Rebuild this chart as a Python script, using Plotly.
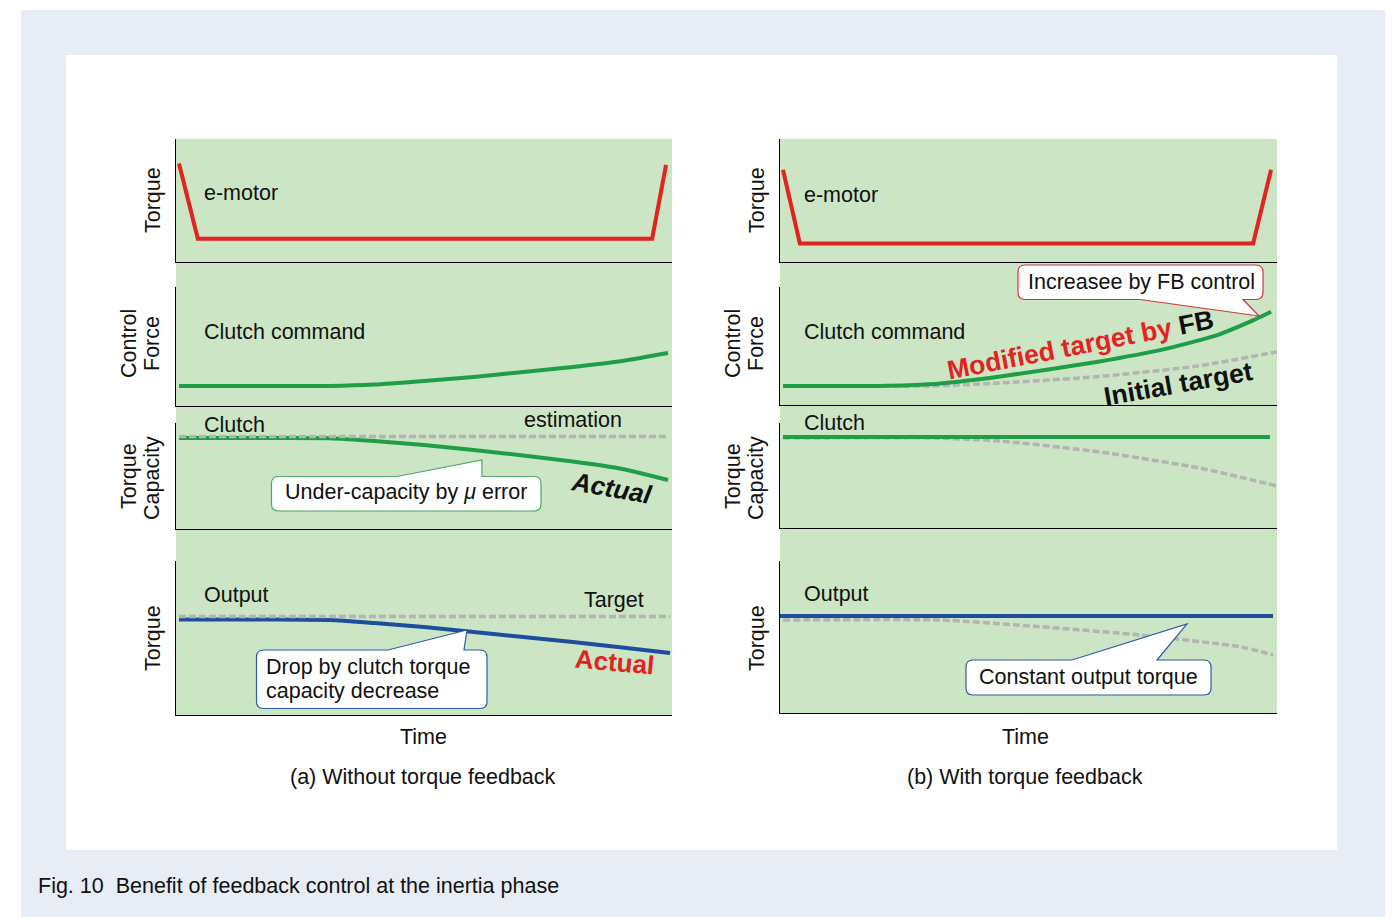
import plotly.graph_objects as go

# ---------------- data (time in % of inertia phase, value normalised 0..1) ----------------
# (a) Without torque feedback
emotor_a_t = [0.6, 4.4, 96.0, 98.8]
emotor_a_v = [0.80, 0.19, 0.19, 0.79]

cmd_a_t = [0.6, 10, 20, 31, 40, 50, 60, 70, 80, 90, 99.2]
cmd_a_v = [0.168, 0.168, 0.168, 0.168, 0.18, 0.21, 0.244, 0.286, 0.328, 0.378, 0.445]

cap_est_a_t = [0.6, 99.2]
cap_est_a_v = [0.873, 0.873]
cap_act_a_t = [0.6, 20, 31, 40, 50, 60, 70, 80, 90, 99.2]
cap_act_a_v = [0.858, 0.858, 0.856, 0.830, 0.792, 0.745, 0.693, 0.637, 0.566, 0.462]

out_tgt_a_t = [0.6, 99.6]
out_tgt_a_v = [0.64, 0.64]
out_act_a_t = [0.6, 20, 31, 40, 50, 60, 70, 80, 90, 99.6]
out_act_a_v = [0.62, 0.62, 0.617, 0.597, 0.571, 0.539, 0.506, 0.474, 0.438, 0.403]

# (b) With torque feedback
emotor_b_t = [0.6, 4.0, 95.2, 98.8]
emotor_b_v = [0.75, 0.15, 0.15, 0.75]

cmd_mod_b_t = [0.6, 20, 30, 44, 64, 78, 88, 94.6, 98.8]
cmd_mod_b_v = [0.161, 0.161, 0.175, 0.24, 0.367, 0.48, 0.593, 0.706, 0.79]
cmd_init_b_t = [0.6, 30, 44, 64, 84, 100]
cmd_init_b_v = [0.161, 0.161, 0.186, 0.24, 0.33, 0.45]

cap_b_t = [0.6, 98.6]
cap_b_v = [0.867, 0.867]
cap_init_b_t = [0.6, 31, 44.3, 64.4, 84.5, 100]
cap_init_b_v = [0.857, 0.857, 0.829, 0.724, 0.571, 0.40]

out_b_t = [0.0, 99.2]
out_b_v = [0.638, 0.638]
out_init_b_t = [0.6, 32.2, 52.3, 72.4, 92.6, 99.2]
out_init_b_v = [0.612, 0.612, 0.568, 0.513, 0.436, 0.382]

# ---------------- layout helpers ----------------
W, H = 1397, 917
FONT = "Liberation Sans, Arial, Helvetica, sans-serif"
GREEN_BG = "#cce5c4"
OUTER_BG = "#e8ecf5"
RED = "#e3231f"
GREEN = "#1f9e48"
BLUE = "#1d4d9c"
GRAY = "#b4b4b4"
FS = 21.5


def X(p):
    return p / W


def Y(p):
    return 1 - p / H


# subplot rectangles in pixels: (x0, x1, ytop, ybottom)
LEFT = (176, 672)
RIGHT = (780, 1277)
panels = [
    (LEFT, 139, 262), (LEFT, 287, 406), (LEFT, 423, 529), (LEFT, 561, 715),
    (RIGHT, 139, 262), (RIGHT, 287, 405), (RIGHT, 423, 528), (RIGHT, 561, 713),
]

fig = go.Figure()
layout = dict(
    width=W, height=H, margin=dict(l=0, r=0, t=0, b=0),
    paper_bgcolor="white", plot_bgcolor="rgba(0,0,0,0)",
    showlegend=False, font=dict(family=FONT, size=FS, color="#111111"),
)
for i, ((x0, x1), yt, yb) in enumerate(panels, start=1):
    sfx = "" if i == 1 else str(i)
    layout["xaxis" + sfx] = dict(
        domain=[X(x0), X(x1)], range=[0, 100], anchor="y" + sfx,
        showline=True, linecolor="black", linewidth=1.2, mirror=False,
        showticklabels=False, ticks="", showgrid=False, zeroline=False, fixedrange=True,
    )
    layout["yaxis" + sfx] = dict(
        domain=[Y(yb), Y(yt)], range=[0, 1], anchor="x" + sfx,
        showline=True, linecolor="black", linewidth=1.2,
        showticklabels=False, ticks="", showgrid=False, zeroline=False, fixedrange=True,
    )
fig.update_layout(**layout)


def line(t, v, n, color, width=4, dash=None):
    sfx = "" if n == 1 else str(n)
    fig.add_trace(go.Scatter(
        x=t, y=v, mode="lines", xaxis="x" + sfx, yaxis="y" + sfx,
        line=dict(color=color, width=width, dash=dash, shape="spline", smoothing=0.5),
        hoverinfo="skip",
    ))


DASH = "7px,3px"
# (a)
fig.add_trace(go.Scatter(x=emotor_a_t, y=emotor_a_v, mode="lines", xaxis="x", yaxis="y",
                         line=dict(color=RED, width=4), hoverinfo="skip"))
line(cmd_a_t, cmd_a_v, 2, GREEN)
line(cap_act_a_t, cap_act_a_v, 3, GREEN)
line(cap_est_a_t, cap_est_a_v, 3, GRAY, 3.5, DASH)
line(out_act_a_t, out_act_a_v, 4, BLUE)
line(out_tgt_a_t, out_tgt_a_v, 4, GRAY, 3.5, DASH)
# (b)
fig.add_trace(go.Scatter(x=emotor_b_t, y=emotor_b_v, mode="lines", xaxis="x5", yaxis="y5",
                         line=dict(color=RED, width=4), hoverinfo="skip"))
line(cmd_init_b_t, cmd_init_b_v, 6, GRAY, 3.5, DASH)
line(cmd_mod_b_t, cmd_mod_b_v, 6, GREEN)
line(cap_init_b_t, cap_init_b_v, 7, GRAY, 3.5, DASH)
line(cap_b_t, cap_b_v, 7, GREEN)
line(out_init_b_t, out_init_b_v, 8, GRAY, 3.5, DASH)
line(out_b_t, out_b_v, 8, BLUE)

# ---------------- background shapes ----------------
shapes = [
    dict(type="rect", xref="paper", yref="paper", x0=X(21), x1=X(1385), y0=Y(917), y1=Y(10),
         fillcolor=OUTER_BG, line=dict(width=0), layer="below"),
    dict(type="rect", xref="paper", yref="paper", x0=X(66), x1=X(1337), y0=Y(850), y1=Y(55),
         fillcolor="white", line=dict(width=0), layer="below"),
    dict(type="rect", xref="paper", yref="paper", x0=X(176), x1=X(672), y0=Y(715), y1=Y(139),
         fillcolor=GREEN_BG, line=dict(width=0), layer="below"),
    dict(type="rect", xref="paper", yref="paper", x0=X(780), x1=X(1277), y0=Y(713), y1=Y(139),
         fillcolor=GREEN_BG, line=dict(width=0), layer="below"),
]


def callout(x0, y0, x1, y1, side, a, b, tip, border, r=7):
    tx, ty = tip
    P = lambda x, y: f"{X(x):.6f},{Y(y):.6f}"
    d = f"M {P(x0 + r, y0)} "
    if side == "top":
        d += f"L {P(a, y0)} L {P(tx, ty)} L {P(b, y0)} "
    d += f"L {P(x1 - r, y0)} Q {P(x1, y0)} {P(x1, y0 + r)} "
    d += f"L {P(x1, y1 - r)} Q {P(x1, y1)} {P(x1 - r, y1)} "
    if side == "bottom":
        d += f"L {P(b, y1)} L {P(tx, ty)} L {P(a, y1)} "
    d += f"L {P(x0 + r, y1)} Q {P(x0, y1)} {P(x0, y1 - r)} "
    d += f"L {P(x0, y0 + r)} Q {P(x0, y0)} {P(x0 + r, y0)} Z"
    return dict(type="path", xref="paper", yref="paper", path=d, fillcolor="white",
                line=dict(color=border, width=1.2), layer="above")


shapes += [
    callout(271.5, 476.5, 541, 511, "top", 397, 482, (482, 460), "#4aa865"),
    callout(256.5, 650, 487, 708.5, "top", 388, 464, (467, 630), "#2e5da6"),
    callout(1018, 265, 1263, 299.5, "bottom", 1140, 1243, (1259, 316), "#d2393a"),
    callout(966, 660, 1211, 695, "top", 1072, 1157, (1187, 624), "#2e5da6"),
]
fig.update_layout(shapes=shapes)

# ---------------- text ----------------
anns = []


def T(text, x, y, size=FS, xa="left", ya="middle", color="#111111", angle=0):
    anns.append(dict(text=text, x=X(x), y=Y(y), xref="paper", yref="paper",
                     xanchor=xa, yanchor=ya, showarrow=False, textangle=angle,
                     font=dict(family=FONT, size=size, color=color)))


# side axis labels
for cx in (0, 604):
    T("Torque", 153 + cx, 200, xa="center", angle=-90)
    T("Control", 129 + cx, 344, xa="center", angle=-90)
    T("Force", 152 + cx, 344, xa="center", angle=-90)
    T("Torque", 129 + cx, 476, xa="center", angle=-90)
    T("Capacity", 152 + cx, 478, xa="center", angle=-90)
    T("Torque", 153 + cx, 638, xa="center", angle=-90)

# (a) labels
T("e-motor", 202, 193)
T("Clutch command", 202, 332)
T("Clutch", 202, 425)
T("estimation", 522, 420)
T("Output", 202, 595)
T("Target", 582, 600)
T("<b><i>Actual</i></b>", 611, 488, size=26, xa="center", angle=10)
T("<b>Actual</b>", 614, 662, size=26, xa="center", color="#e3231f", angle=5)
T("Under-capacity by <i>μ</i> error", 406, 492, xa="center")
T("Drop by clutch torque", 264, 667)
T("capacity decrease", 264, 691)
T("Time", 423, 737, xa="center")
T("(a) Without torque feedback", 423, 777, xa="center")

# (b) labels
T("e-motor", 802, 195)
T("Clutch command", 802, 332)
T("Clutch", 802, 423)
T("Output", 802, 594)
T("Increasee by FB control", 1141, 282, xa="center")
T("<b><span style='color:#e3231f'>Modified target by</span> FB</b>", 1080, 345, size=26.5,
  xa="center", angle=-11)
T("<b>Initial target</b>", 1178, 384, size=26.5, xa="center", angle=-10)
T("Constant output torque", 1088, 677, xa="center")
T("Time", 1025, 737, xa="center")
T("(b) With torque feedback", 1025, 777, xa="center")

# caption
T("Fig. 10  Benefit of feedback control at the inertia phase", 36, 886)

fig.update_layout(annotations=anns)

fig.write_html(
    "out.html",
    config={"displayModeBar": False, "staticPlot": True},
    post_script="document.body.style.margin='0';document.body.style.overflow='hidden';",
)
